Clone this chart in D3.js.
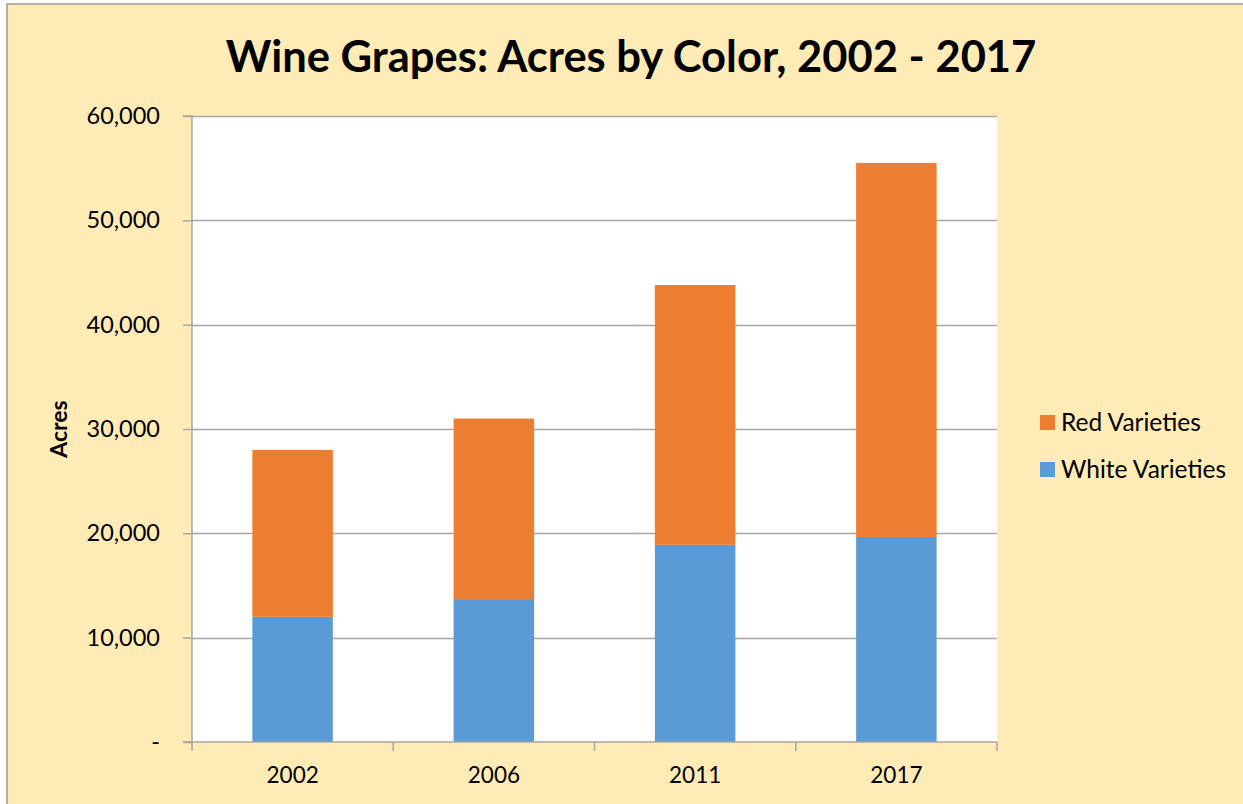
<!DOCTYPE html>
<html>
<head>
<meta charset="utf-8">
<script src="https://cdn.jsdelivr.net/npm/d3@7"></script>
<style>
  html, body { margin: 0; padding: 0; background: #fff; }
  svg { display: block; }
  text { font-family: Lato, "Open Sans", sans-serif; fill: #000; }
</style>
</head>
<body>
<svg id="chart" width="1243" height="804"></svg>
<script>
const categories = ["2002", "2006", "2011", "2017"];
const whiteVarieties = [12000, 13700, 18900, 19650];
const redVarieties = [16000, 17300, 24900, 35850];
const yTicks = [0, 10000, 20000, 30000, 40000, 50000, 60000];
const seriesNames = ["Red Varieties", "White Varieties"];
const seriesColors = { "Red Varieties": "#ED7D31", "White Varieties": "#5B9BD5" };

const svg = d3.select("#chart");
const W = 1243, H = 804;

// frame
svg.append("rect").attr("x", 0).attr("y", 0).attr("width", W).attr("height", H).attr("fill", "#fff");
svg.append("rect").attr("x", 7).attr("y", 4).attr("width", W + 10).attr("height", H + 10)
  .attr("fill", "#FFEBB6").attr("stroke", "#9a9a9a").attr("stroke-width", 1.5);

const plot = { left: 192, right: 997, top: 116, bottom: 742 };

const x = d3.scaleBand().domain(categories).range([plot.left, plot.right]).paddingInner(0.6).paddingOuter(0.3);
const y = d3.scaleLinear().domain([0, 60000]).range([plot.bottom, plot.top]);

// plot area background
svg.append("rect").attr("x", plot.left).attr("y", plot.top)
  .attr("width", plot.right - plot.left).attr("height", plot.bottom - plot.top).attr("fill", "#fff");

// gridlines
svg.append("g").selectAll("line").data(yTicks.filter(d => d > 0)).join("line")
  .attr("x1", plot.left).attr("x2", plot.right)
  .attr("y1", d => Math.round(y(d)) + 0.5).attr("y2", d => Math.round(y(d)) + 0.5)
  .attr("stroke", "#a6a6a6").attr("stroke-width", 1.5);

// stacked data
const data = categories.map((c, i) => ({ cat: c, "White Varieties": whiteVarieties[i], "Red Varieties": redVarieties[i] }));
const stack = d3.stack().keys(["White Varieties", "Red Varieties"])(data);

svg.append("g").selectAll("g").data(stack).join("g")
  .attr("fill", d => seriesColors[d.key])
  .selectAll("rect").data(d => d).join("rect")
  .attr("x", d => x(d.data.cat))
  .attr("width", x.bandwidth())
  .attr("y", d => y(d[1]))
  .attr("height", d => y(d[0]) - y(d[1]));

// y axis
const yAxis = d3.axisLeft(y).tickValues(yTicks).tickSize(9).tickPadding(23)
  .tickFormat(d => d === 0 ? "-" : d3.format(",")(d));
const gy = svg.append("g").attr("transform", `translate(${plot.left},0)`).call(yAxis);
gy.select(".domain").attr("stroke", "#a6a6a6").attr("stroke-width", 1.5).attr("d", `M-9,${plot.top}H0V${plot.bottom}`);
gy.selectAll(".tick line").attr("stroke", "#a6a6a6").attr("stroke-width", 1.5);
gy.selectAll(".tick text").style("font-family", "Lato, sans-serif").style("font-size", "23.5px").attr("fill", "#000");

// x axis
const xAxis = d3.axisBottom(x).tickSize(0).tickPadding(25);
const gx = svg.append("g").attr("transform", `translate(0,${plot.bottom})`).call(xAxis);
gx.select(".domain").attr("stroke", "#a6a6a6").attr("stroke-width", 1.5).attr("d", `M${plot.left - 9},0H${plot.right}`);
gx.selectAll(".tick text").style("font-family", "Lato, sans-serif").style("font-size", "22.5px").attr("fill", "#000").attr("dy", "0.71em");
const bounds = categories.map(c => x(c) - x.step() * x.paddingInner() / 2).concat([plot.right]);
gx.append("g").selectAll("line").data(bounds).join("line")
  .attr("x1", d => d).attr("x2", d => d).attr("y1", 0).attr("y2", 9)
  .attr("stroke", "#a6a6a6").attr("stroke-width", 1.5);

// title
svg.append("text").attr("x", 631).attr("y", 72).attr("text-anchor", "middle")
  .style("font-size", "43.5px").style("font-weight", "bold")
  .text("Wine Grapes: Acres by Color, 2002 - 2017");

// y axis title
svg.append("text").attr("transform", "translate(67,429) rotate(-90)").attr("text-anchor", "middle")
  .style("font-size", "23px").style("font-weight", "bold").text("Acres");

// legend
const lg = svg.append("g").selectAll("g").data(seriesNames).join("g")
  .attr("transform", (d, i) => `translate(1040,${415 + i * 47})`);
lg.append("rect").attr("width", 15).attr("height", 15).attr("fill", d => seriesColors[d]);
lg.append("text").attr("x", 21).attr("y", 16).style("font-size", "24.5px").text(d => d);
</script>
</body>
</html>
